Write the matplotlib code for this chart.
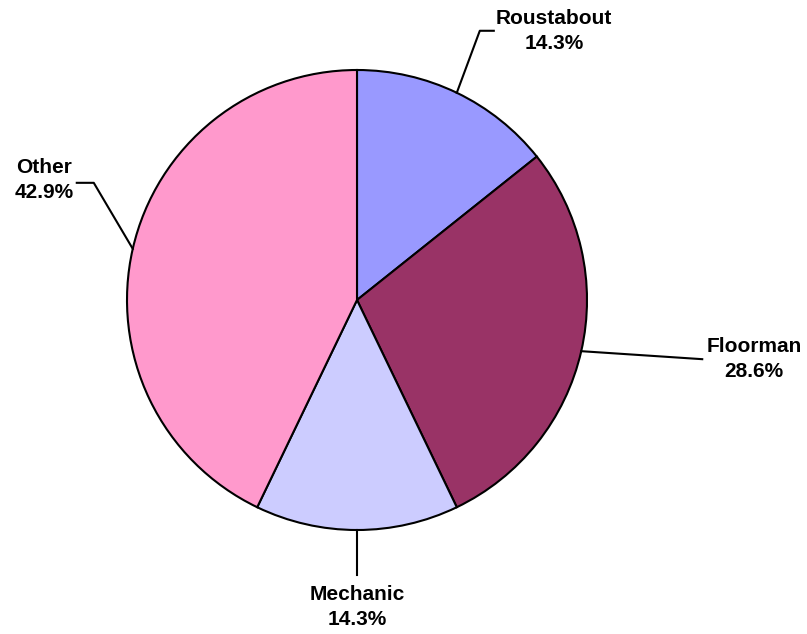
import numpy as np
import matplotlib.pyplot as plt

labels = ['Roustabout', 'Floorman', 'Mechanic', 'Other']
values = [1, 2, 1, 3]
colors = ['#9999FF', '#993366', '#CCCCFF', '#FF99CC']

plt.rcParams['font.family'] = ['Liberation Sans', 'DejaVu Sans']

fig = plt.figure(figsize=(8.07, 6.34), dpi=100)
ax = fig.add_axes([0, 0, 1, 1])

cx, cy, r = 357, 334, 230
wedges, _ = ax.pie(values, colors=colors, startangle=90, counterclock=False,
                   center=(cx, cy), radius=r, frame=True,
                   wedgeprops=dict(edgecolor='black', linewidth=1.5))
ax.set_xlim(0, 807)
ax.set_ylim(0, 634)
ax.set_aspect('equal')
ax.axis('off')

pct = np.array(values) / sum(values) * 100
# leader line points relative to the edge point, and text position
leaders = [
    [(23, 62), (37, 62)],
    [(121, -8)],
    [(0, -45)],
    [(-39, 66), (-56, 66)],
]
text_off = [(97, 62), (173, -8), (0, -77), (-89, 69)]

for w, lab, p, pts, to in zip(wedges, labels, pct, leaders, text_off):
    ang = np.deg2rad((w.theta1 + w.theta2) / 2)
    x0 = cx + r * np.cos(ang)
    y0 = cy + r * np.sin(ang)
    xs = [x0] + [x0 + dx for dx, dy in pts]
    ys = [y0] + [y0 + dy for dx, dy in pts]
    ax.plot(xs, ys, color='black', linewidth=1.5)
    ax.text(x0 + to[0], y0 + to[1], f'{lab}\n{p:.1f}%', ha='center', va='center',
            fontsize=15, fontweight='bold', linespacing=1.4)

fig.savefig('out.png', dpi=100)
